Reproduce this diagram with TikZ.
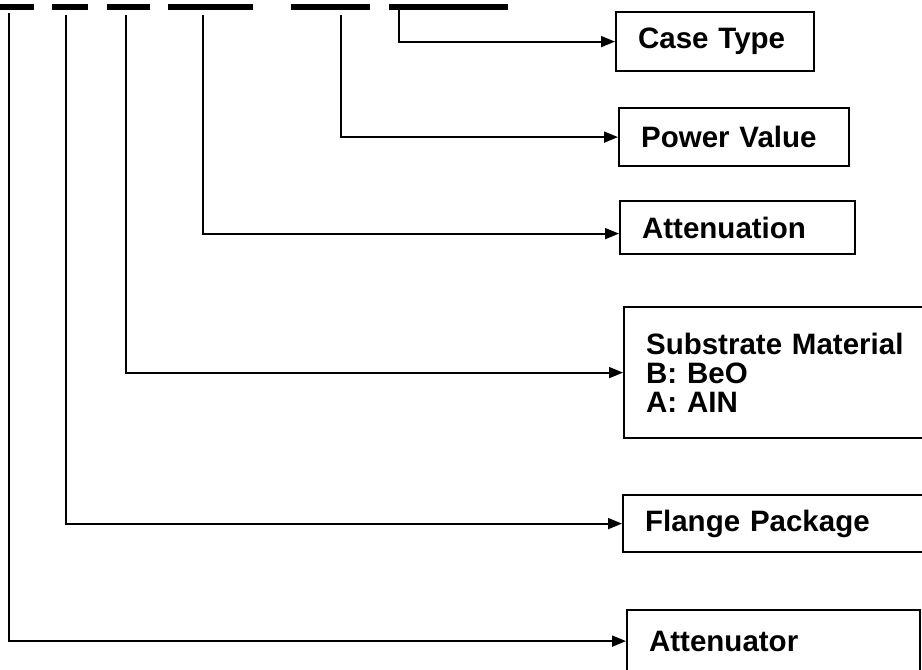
\documentclass[tikz,border=0pt]{standalone}
\usepackage{fontspec}
\setmainfont{Liberation Sans}
\usetikzlibrary{arrows.meta}

\begin{document}
\begin{tikzpicture}[x=1pt, y=-1pt,
          box/.style={draw, line width=2.2pt, anchor=north west, inner xsep=22pt, inner ysep=0pt, align=left, font=\fontsize{29.5}{29}\selectfont\bfseries},
          feed/.style={line width=1.8pt, -{Triangle[length=14pt, width=11pt]}}]
        \useasboundingbox (0,0) rectangle (922,670);
        % underlines of the part number
        \foreach \a/\b in {0/34, 52/88, 107/150, 168/253, 291/370, 389/508}
          \fill (\a,3.5) rectangle (\b,9.5);
        \coordinate (pa) at (9,13);
        \coordinate (pf) at (66,15);
        \coordinate (pb) at (126,15);
        \coordinate (px) at (203,15);
        \coordinate (pw) at (341,15);
        \coordinate (pc) at (399,9.5);
        \node[box, minimum height=59pt, text width=154pt] (c) at (615,11) {Case Type};
        \node[box, minimum height=58pt, text width=186pt] (w) at (618,107) {Power Value};
        \node[box, minimum height=53pt, text width=191pt] (x) at (619,200) {Attenuation};
        \node[box, minimum height=131pt, text width=263pt] (b) at (623,306) {Substrate Material\\B: BeO\\A: AIN};
        \node[box, minimum height=57pt, text width=264pt] (f) at (622,494) {Flange Package};
        \node[box, minimum height=62pt, text width=249pt] (a) at (626,609) {Attenuator};
        \draw[feed] (pc) |- (c.west);
        \draw[feed] (pw) |- (w.west);
        \draw[feed] (px) |- ([yshift=-6pt]x.west);
        \draw[feed] (pb) |- (b.west);
        \draw[feed] (pf) |- (f.west);
        \draw[feed] (pa) |- (a.west);
      \end{tikzpicture}
\end{document}
